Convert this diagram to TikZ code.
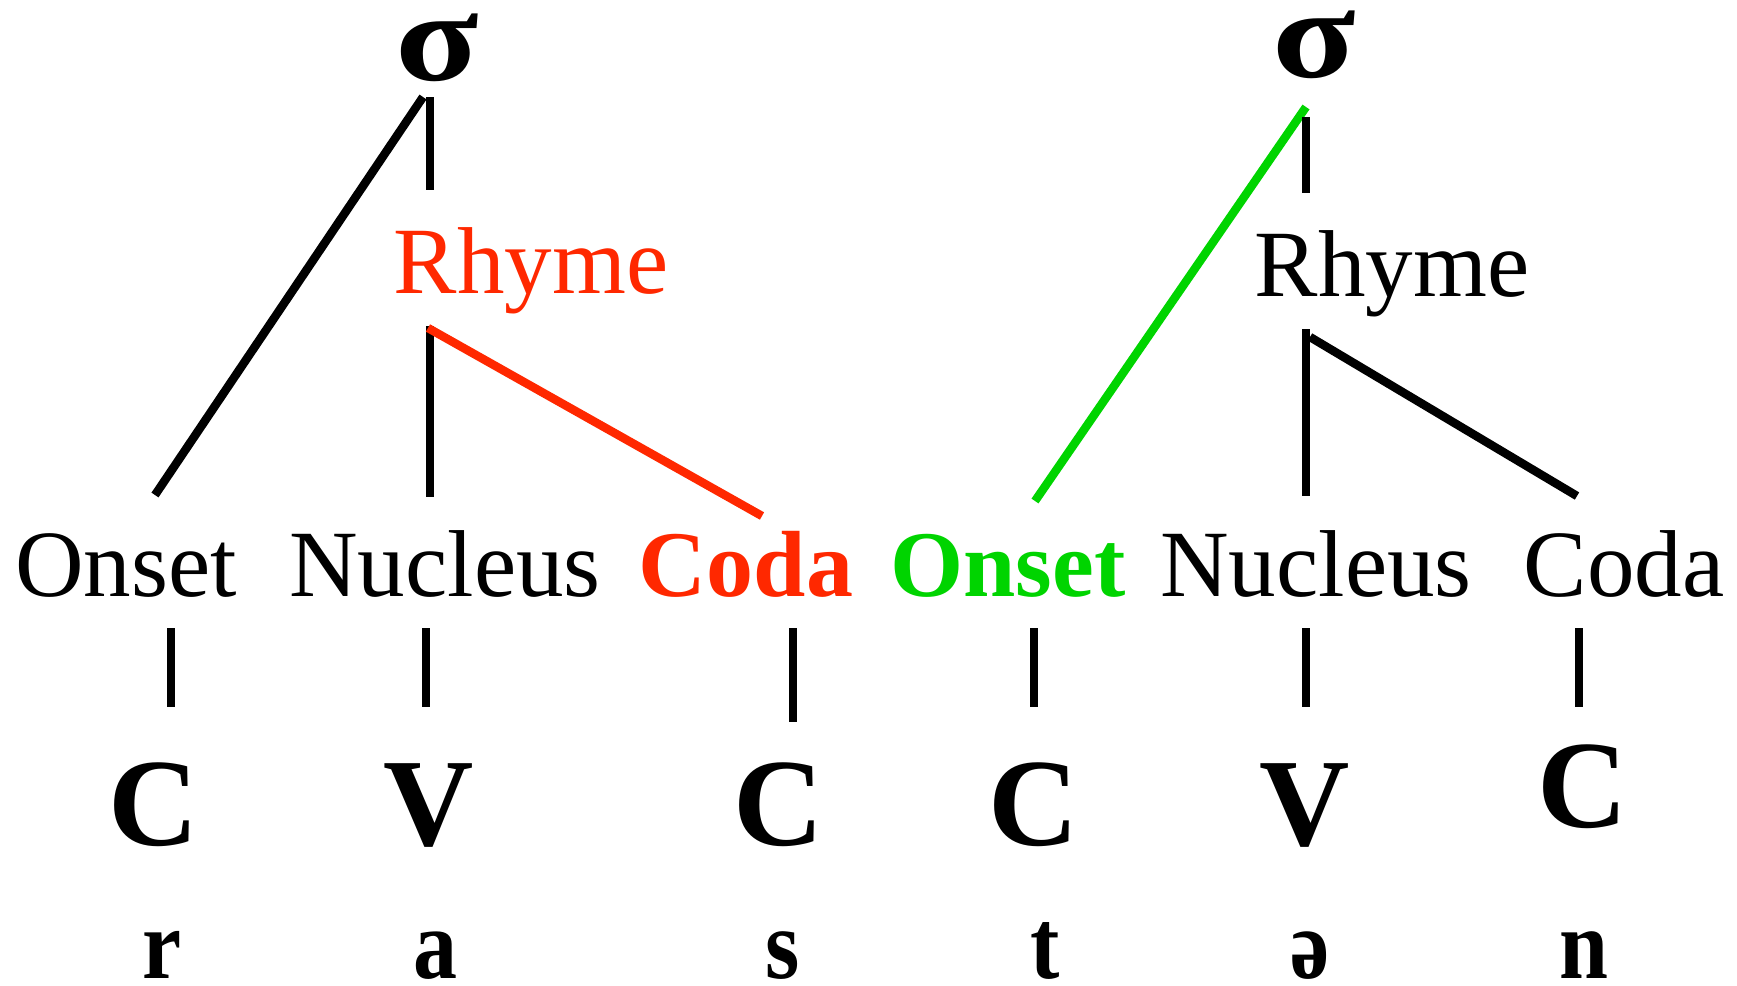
\documentclass[tikz,border=0pt]{standalone}
\usepackage{fontspec}
\setmainfont{Liberation Serif}
\usepackage{graphicx}
\usetikzlibrary{positioning}
\definecolor{rhymered}{RGB}{255,40,0}
\definecolor{onsetgreen}{RGB}{0,212,0}
\tikzset{
branch/.style={line width=4.25pt},
redbranch/.style={branch,color=rhymered},
greenbranch/.style={branch,color=onsetgreen},
word/.style={anchor=base,inner sep=0pt,font=\fontsize{47.5}{50}\selectfont},
boldword/.style={anchor=base,inner sep=0pt,font=\fontsize{47}{50}\selectfont\bfseries},
slot/.style={anchor=base,inner sep=0pt,font=\fontsize{62.5}{70}\selectfont\bfseries},
segment/.style={anchor=base,inner sep=0pt,font=\fontsize{44}{50}\selectfont\bfseries},
syll/.style={anchor=base,inner sep=0pt,font=\fontsize{64}{70}\selectfont\bfseries},
}
\newcommand{\tallseg}[1]{\scalebox{1}[1.13]{#1}}
\newcommand{\widesig}{\scalebox{1.2}[1]{σ}}

\begin{document}
\begin{tikzpicture}[x=0.5pt,y=-0.5pt]
        \useasboundingbox (0,0) rectangle (1737,986);

        \node[syll] (sig1) at (437,80) {\widesig};
        \node[syll] (sig2) at (1314,77) {\widesig};
        \node[word,text=rhymered] (rhyme1) at (531,293) {Rhyme};
        \node[word] (rhyme2) at (1392,296) {Rhyme};

        \node[word] (onset1) at (126,596) {Onset};
        \node[word] (nucleus1) at (445,596) {Nucleus};
        \node[boldword,text=rhymered] (coda1) at (746,596) {Coda};
        \node[boldword,text=onsetgreen] (onset2) at (1008,596) {Onset};
        \node[word] (nucleus2) at (1316,596) {Nucleus};
        \node[word] (coda2) at (1624,596) {Coda};

        \node[slot] (c1) at (154,845) {C};
        \node[slot] (v1) at (429,845) {V};
        \node[slot] (c2) at (779,845) {C};
        \node[slot] (c3) at (1034,845) {C};
        \node[slot] (v2) at (1305,845) {V};
        \node[slot] (c4) at (1583,827) {C};

        \node[segment] (segr) at (162,978) {\tallseg{r}};
        \node[segment] (sega) at (435,978) {\tallseg{a}};
        \node[segment] (segs) at (783,978) {\tallseg{s}};
        \node[segment] (segt) at (1045,978) {\tallseg{t}};
        \node[segment] (segschwa) at (1310,978) {\tallseg{ə}};
        \node[segment] (segn) at (1584,978) {\tallseg{n}};

        % joints of the first syllable
        \coordinate (sig1diag) at (423,97);
        \coordinate (sig1foot) at (430,97);
        \coordinate (rhyme1top) at (430,190);
        \coordinate (rhyme1foot) at (430,326);
        \coordinate (rhyme1diag) at (428,328);
        \coordinate (onset1top) at (155,495);
        \coordinate (nucleus1top) at (430,497);
        \coordinate (coda1top) at (762,516);

        % joints of the second syllable
        \coordinate (sig2diag) at (1306,107);
        \coordinate (sig2foot) at (1306,117);
        \coordinate (rhyme2top) at (1306,193);
        \coordinate (rhyme2foot) at (1306,329);
        \coordinate (rhyme2diag) at (1310,337);
        \coordinate (onset2top) at (1035,501);
        \coordinate (nucleus2top) at (1306,496);
        \coordinate (coda2top) at (1577,496);

        \draw[branch] (sig1diag) -- (onset1top);
        \draw[branch] (sig1foot) -- (rhyme1top);
        \draw[branch] (rhyme1foot) -- (nucleus1top);
        \draw[redbranch] (rhyme1diag) -- (coda1top);

        \draw[greenbranch] (sig2diag) -- (onset2top);
        \draw[branch] (sig2foot) -- (rhyme2top);
        \draw[branch] (rhyme2foot) -- (nucleus2top);
        \draw[branch] (rhyme2diag) -- (coda2top);

        % association lines to the CV tier
        \foreach \name/\x/\y in {tone/171/707,ttwo/426/707,tthree/793/722,tfour/1034/707,tfive/1306/707,tsix/1579/707}{
            \coordinate (\name a) at (\x,628);
            \coordinate (\name b) at (\x,\y);
            \draw[branch] (\name a) -- (\name b);
        }
\end{tikzpicture}
\end{document}
